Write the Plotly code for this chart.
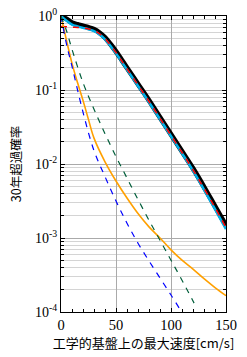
import numpy as np
import plotly.graph_objects as go

# velocity [cm/s]
x_main = [0, 5, 10, 15, 20, 25, 30, 35, 40, 45, 50, 55, 60, 70, 80, 90, 100, 110, 120, 130, 140, 150]
# log10 exceedance probability
black_log = [0, -0.04, -0.09, -0.115, -0.135, -0.155, -0.18, -0.225, -0.29, -0.38, -0.48, -0.59, -0.70,
             -0.92, -1.14, -1.37, -1.60, -1.83, -2.06, -2.31, -2.57, -2.83]
cyan_log = [0, -0.065, -0.115, -0.14, -0.16, -0.18, -0.205, -0.25, -0.315, -0.405, -0.505, -0.615, -0.725,
            -0.945, -1.165, -1.395, -1.625, -1.855, -2.09, -2.345, -2.61, -2.88]
red_log = [-0.143, -0.145, -0.15, -0.155, -0.16, -0.175, -0.195, -0.24, -0.305, -0.395, -0.495, -0.605, -0.715,
           -0.935, -1.155, -1.385, -1.615, -1.845, -2.08, -2.33, -2.59, -2.86]

x_orange = [0, 5, 10, 15, 20, 25, 30, 40, 50, 60, 70, 80, 90, 100, 110, 120, 130, 140, 150]
orange_log = [0, -0.33, -0.64, -0.90, -1.14, -1.40, -1.65, -1.97, -2.23, -2.46, -2.67, -2.85, -3.00,
              -3.16, -3.30, -3.42, -3.55, -3.67, -3.78]

x_blue = [0, 5, 10, 20, 30, 40, 50, 60, 70, 80, 90, 100, 108]
blue_log = [0, -0.38, -0.68, -1.30, -1.82, -2.17, -2.50, -2.80, -3.07, -3.31, -3.54, -3.77, -3.96]

x_green = [0, 5, 10, 20, 30, 40, 50, 60, 70, 80, 90, 100, 110, 121]
green_log = [0, -0.20, -0.45, -0.90, -1.26, -1.59, -1.90, -2.19, -2.48, -2.76, -3.03, -3.30, -3.57, -3.88]

y_tickvals = [1, 0.1, 0.01, 0.001, 0.0001]
y_ticktext = ["10<sup>0</sup>", "10<sup>-1</sup>", "10<sup>-2</sup>", "10<sup>-3</sup>", "10<sup>-4</sup>"]
x_tickvals = [0, 50, 100, 150]

def p(logs):
    return [10 ** v for v in logs]

fig = go.Figure()
fig.add_trace(go.Scatter(x=x_main, y=p(black_log), mode="lines", line=dict(color="black", width=5, shape="spline")))
fig.add_trace(go.Scatter(x=x_main, y=p(cyan_log), mode="lines", line=dict(color="#00B0E8", width=2.5, shape="spline")))
fig.add_trace(go.Scatter(x=x_main, y=p(red_log), mode="lines", line=dict(color="#FF0000", width=1.5, dash="6px,6px", shape="spline")))
fig.add_trace(go.Scatter(x=x_orange, y=p(orange_log), mode="lines", line=dict(color="#FFA000", width=1.6, shape="spline")))
fig.add_trace(go.Scatter(x=x_blue, y=p(blue_log), mode="lines", line=dict(color="#0000FF", width=1.2, dash="6px,6px", shape="spline")))
fig.add_trace(go.Scatter(x=x_green, y=p(green_log), mode="lines", line=dict(color="#005E3A", width=1.2, dash="6px,6px", shape="spline")))

serif = "Liberation Serif, Times New Roman, serif"
cjk = "Noto Sans CJK JP"

fig.update_layout(
    width=247, height=357,
    margin=dict(l=61, r=21, t=16, b=45, autoexpand=False),
    paper_bgcolor="white", plot_bgcolor="white",
    showlegend=False,
    font=dict(family=serif, size=13, color="black"),
)
fig.update_xaxes(
    range=[0, 150], tickvals=x_tickvals, ticks="inside", ticklen=4, tickcolor="black",
    showgrid=True, gridcolor="#AAAAAA", gridwidth=1, automargin=False,
    showline=True, linecolor="black", linewidth=1, mirror="ticks", zeroline=False,
    minor=dict(dtick=10, ticks="inside", ticklen=3, tickcolor="black", showgrid=False),
    tickfont=dict(family=serif, size=14.5),
    title=dict(text="工学的基盤上の最大速度[cm/s]", font=dict(family=cjk, size=13), standoff=0),
)
fig.update_yaxes(
    type="log", range=[-4, 0], tickvals=y_tickvals, ticktext=y_ticktext,
    ticks="inside", ticklen=4, tickcolor="black", automargin=False,
    showgrid=True, gridcolor="#AAAAAA", gridwidth=1,
    showline=True, linecolor="black", linewidth=1, mirror="ticks", zeroline=False,
    minor=dict(dtick="D1", ticks="inside", ticklen=3, tickcolor="black", showgrid=True, gridcolor="#D4D4D4"),
    tickfont=dict(family=serif, size=14),
    title=dict(text="30年超過確率", font=dict(family=cjk, size=12.5), standoff=10),
)

fig.write_html("out.html")
